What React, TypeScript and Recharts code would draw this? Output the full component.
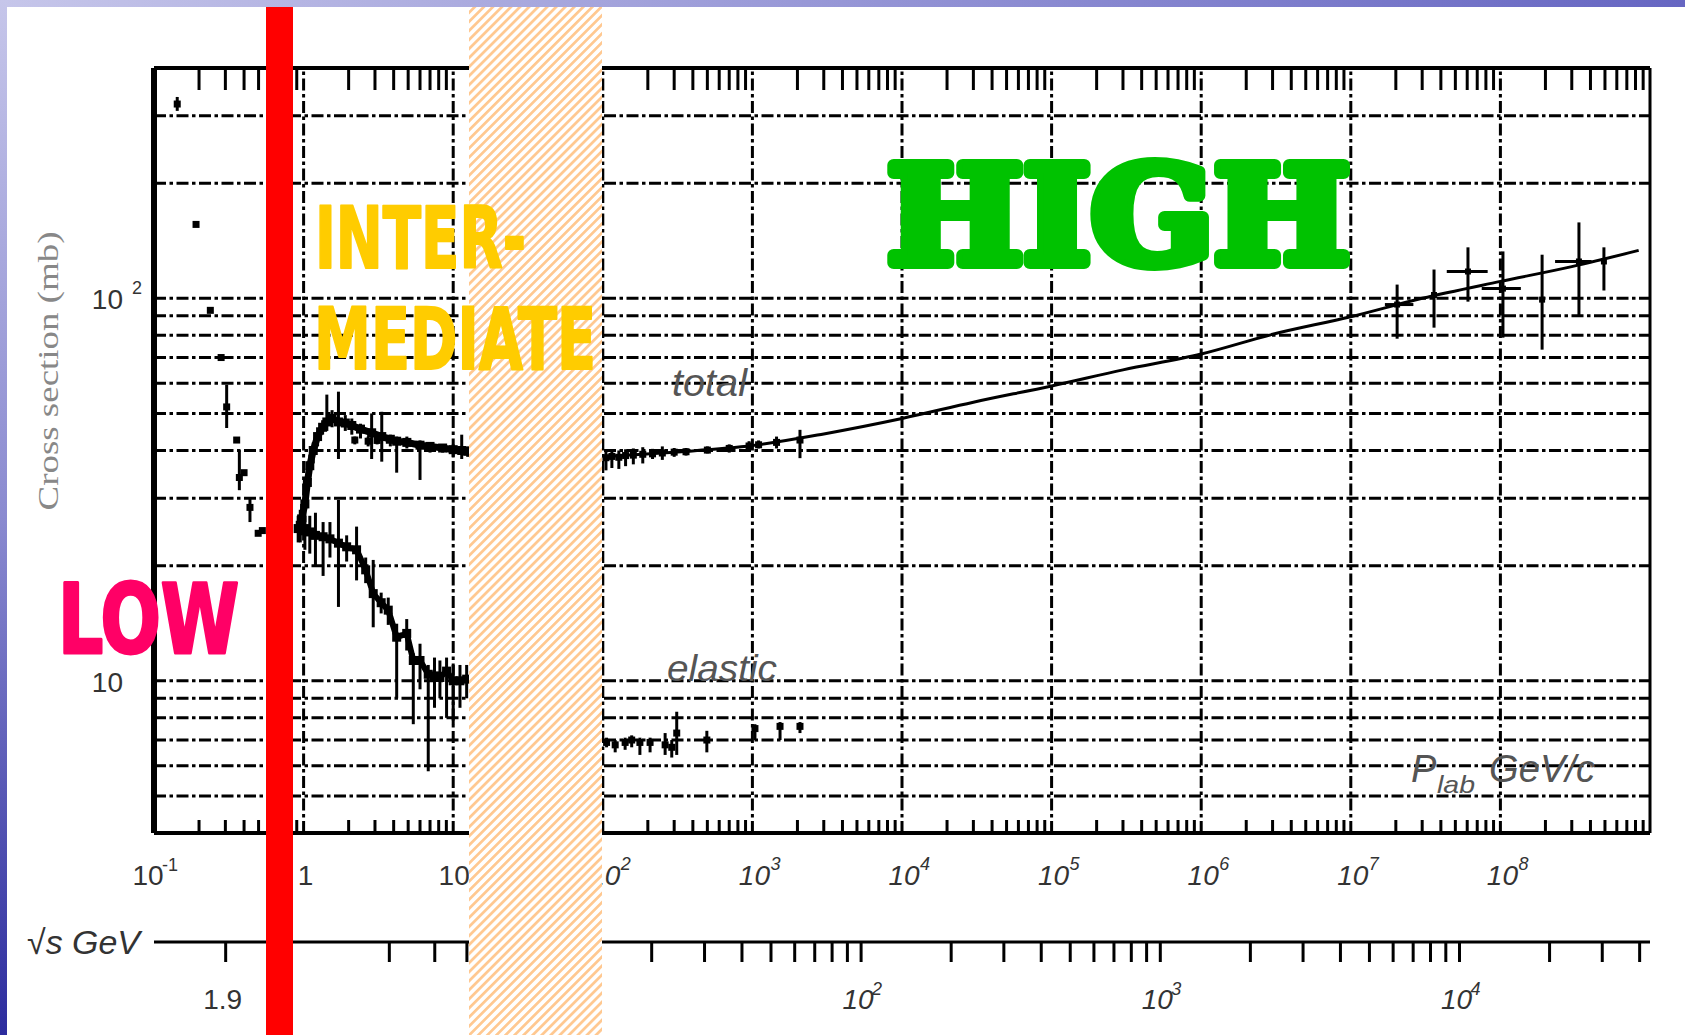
import React from 'react';
import { ComposedChart, Line, Scatter, XAxis, YAxis, ReferenceLine, ErrorBar } from 'recharts';

const W = 1685;
const H = 1035;
const PROTON_MASS = 0.938272;

// lower axis: p_lab in GeV/c, one major tick per decade
const plabDecades = [0.1, 1, 10, 1e2, 1e3, 1e4, 1e5, 1e6, 1e7, 1e8];
const minorSteps = [2, 3, 4, 5, 6, 7, 8, 9];
// horizontal grid (mb) and labelled values
const sigmaGrid = [5, 6, 7, 8, 9, 10, 20, 30, 40, 50, 60, 70, 80, 90, 100, 200, 300];
const sigmaLabels = [10, 100];
// second scale: sqrt(s) in GeV
const sqrtSTicks = [
  1.9, 2, 3, 4, 5, 6, 7, 8, 9, 10, 20, 30, 40, 50, 60, 70, 80, 90, 100, 200, 300, 400, 500, 600, 700, 800, 900,
  1000, 2000, 3000, 4000, 5000, 6000, 7000, 8000, 9000, 10000, 20000, 30000, 40000,
];
const sqrtSLabels: Record<string, [string, string]> = {
  '1.9': ['1.9', ''],
  '2': ['2', ''],
  '10': ['10', ''],
  '100': ['10', '2'],
  '1000': ['10', '3'],
  '10000': ['10', '4'],
};

// [p_lab, sigma, low, high]  (mb)
const lowEnergy = [
  [0.143, 322, 309, 336],
  [0.191, 156],
  [0.238, 93],
  [0.281, 70],
  [0.306, 52, 45.8, 59.4],
  [0.357, 42.6],
  [0.372, 34, 31.5, 40.1],
  [0.4, 35],
  [0.438, 28.4, 26, 30.1],
  [0.497, 24.3],
  [0.53, 24.7],
];

const interTotal = [
  [0.92, 25, 23, 27],
  [0.97, 26.5, 24, 29],
  [1.02, 29, 26, 31],
  [1.06, 33, 30, 35],
  [1.1, 36.5, 34, 39],
  [1.16, 40, 37, 42],
  [1.24, 43.5, 41, 46],
  [1.34, 46, 44, 48],
  [1.43, 47.5, 45, 56],
  [1.55, 48.5, 46, 51],
  [1.71, 47.5, 38, 57],
  [1.9, 47.2, 45, 49.5],
  [2.1, 46.5, 44, 48.5],
  [2.4, 45.5, 43, 47],
  [2.85, 44.5, 38, 50],
  [3.33, 43.5, 37.4, 50.5],
  [3.8, 42.8, 41, 44],
  [4.19, 42.3, 35, 43.5],
  [4.9, 42, 40.5, 43.5],
  [6.0, 41.3, 33.5, 42.5],
  [7.0, 41, 39.5, 42],
  [8.5, 40.6, 39.5, 41.5],
  [10, 40.2, 38.5, 41.5],
  [11.4, 40, 38, 44],
  [12.5, 39.8, 38.5, 41],
];

const interTotalExtra = [
  [2.2, 42.6, 41.5, 43.5],
  [2.7, 42.3, 41, 43.5],
  [3.1, 42.5, 41.5, 43.5],
];

const interElastic = [
  [0.95, 25.5, 23, 28],
  [1.02, 25, 22, 27],
  [1.1, 24.5, 21.5, 27],
  [1.2, 24, 20, 27.5],
  [1.35, 23.8, 18.8, 26],
  [1.5, 23.5, 21, 26],
  [1.71, 22.9, 15.6, 29.7],
  [1.94, 22.4, 20.5, 24],
  [2.26, 22, 18.3, 25.3],
  [2.6, 19.5, 18, 21],
  [2.92, 16.9, 13.8, 20.7],
  [3.3, 16, 15, 17],
  [3.68, 15.3, 14, 16.5],
  [4.19, 13, 9, 14.1],
  [4.89, 13.3, 12, 14.5],
  [5.41, 11.3, 7.7, 11.8],
  [6.0, 11.3, 9.5, 12.5],
  [6.81, 10.4, 5.8, 11],
  [7.5, 10.3, 8.5, 11.5],
  [8.15, 10.2, 9, 11.3],
  [9.03, 10.6, 8, 11.5],
  [10, 10, 7.7, 11],
  [11.1, 10, 8.5, 11],
  [12.3, 10.1, 9, 11],
];

const highTotalPts = [
  [105, 38.3, 35.5, 40],
  [115, 38.6, 36, 39.8],
  [128, 38.4, 35.8, 40],
  [142, 38.8, 36.4, 40.3],
  [160, 38.9, 36.8, 40.5],
  [185, 39.1, 37, 40.8],
  [215, 39.2, 38, 40.4],
  [250, 39.4, 37.8, 41],
  [300, 39.6, 38.5, 40.6],
  [360, 39.7, 38.8, 40.6],
  [500, 40.1, 39.3, 41],
  [700, 40.5, 39.5, 41.5],
  [950, 41.1, 40, 42.3],
  [1100, 41.4, 40.5, 42.5],
  [1450, 42, 40.5, 43.5],
  [2080, 42.6, 38.2, 45.3],
];

const highElastic = [
  [106, 6.9, 6.7, 7.1],
  [121, 6.8, 6.5, 7.0],
  [141, 6.9, 6.6, 7.1],
  [156, 7.0, 6.7, 7.2],
  [177, 6.9, 6.4, 7.1],
  [207, 6.9, 6.5, 7.1],
  [261, 6.8, 6.4, 7.3],
  [289, 6.7, 6.3, 7.0],
  [312, 7.3, 6.4, 8.3],
  [496, 7.0, 6.5, 7.4],
  [1040, 7.5, 7.0, 7.7],
  [1530, 7.6, 7.0, 7.8],
  [2080, 7.6, 7.3, 7.8],
];

// [p_lab, sigma, low, high, p_low, p_high]
const cosmicTotal = [
  [2.04e7, 96.3, 78.4, 108.6, 1.69e7, 2.62e7],
  [3.6e7, 102, 83.8, 118.9],
  [6.07e7, 117.5, 98, 135.9, 4.38e7, 8.22e7],
  [1.04e8, 106, 78.9, 132.6, 7.5e7, 1.37e8],
  [1.9e8, 99.2, 73.4, 130],
  [3.35e8, 124.8, 89.5, 157.9, 2.32e8, 4.07e8],
  [4.92e8, 124.8, 104.8, 135.9],
];

// [p_lab, sigma] fit through the high energy total cross section
const highTotalFit = [
  [100, 38.5],
  [300, 39.6],
  [1000, 41.2],
  [3000, 44.2],
  [1e4, 48.5],
  [3e4, 53.5],
  [1e5, 59],
  [3e5, 65],
  [1e6, 71.5],
  [3e6, 80.5],
  [1e7, 89.5],
  [3e7, 100],
  [1e8, 110.7],
  [3e8, 121],
  [8.4e8, 133.4],
];

const rows = (pts: number[][]) =>
  pts.map(([p, s, lo = s, hi = s, plo = p, phi = p]) => ({ p, s, ey: [s - lo, hi - s], ex: [p - plo, phi - p] }));

const plabTicks = [...plabDecades, ...plabDecades.flatMap((d) => minorSteps.map((m) => m * d))];
const isDecade = (v: number) => plabDecades.some((d) => Math.abs(v - d) / d < 1e-9);

const plabFromSqrtS = (w: number) => {
  const e = (w * w - 2 * PROTON_MASS * PROTON_MASS) / (2 * PROTON_MASS);
  return Math.sqrt(e * e - PROTON_MASS * PROTON_MASS);
};
const sqrtSFromPlab = (p: number) =>
  Math.sqrt(2 * PROTON_MASS * PROTON_MASS + 2 * PROTON_MASS * Math.sqrt(p * p + PROTON_MASS * PROTON_MASS));
const sqrtSPlabTicks = sqrtSTicks.map(plabFromSqrtS);

const SANS = "'Liberation Sans', Arial, sans-serif";
const GRID_DASH = '12 3.5 3.5 3.5';

const square = (size: number) => (props: any) => {
  const { cx, cy } = props;
  if (cx == null || cy == null) return <g />;
  return <rect x={cx - size / 2} y={cy - size / 2} width={size} height={size} fill="#000" />;
};

const PowerText = ({ x, y, base, exp, italic, expDx, expDy, size = 28 }: any) => (
  <g fontFamily={SANS} fill="#333" fontStyle={italic ? 'italic' : 'normal'}>
    <text x={x} y={y} fontSize={size} textAnchor="middle">
      {base}
    </text>
    {exp ? (
      <text x={x + expDx} y={y + expDy} fontSize={18}>
        {exp}
      </text>
    ) : null}
  </g>
);

const PlabTick = (props: any) => {
  const { x, y, payload } = props;
  const v = payload.value;
  if (!isDecade(v)) return <line x1={x} x2={x} y1={y} y2={y - 13} stroke="#000" strokeWidth={3} />;
  const k = Math.round(Math.log10(v));
  if (k === 0) return <PowerText x={x + 2} y={y + 52} base="1" />;
  if (k === 1) return <PowerText x={x + 1} y={y + 52} base="10" />;
  if (k === -1) return <PowerText x={x - 6} y={y + 52} base="10" exp="-1" expDx={14} expDy={-14} />;
  return <PowerText x={x + 2} y={y + 52} base="10" exp={String(k)} expDx={16} expDy={-15} italic />;
};

const TopTick = (props: any) => {
  const { x, y, payload } = props;
  if (isDecade(payload.value)) return <g />;
  return <line x1={x} x2={x} y1={y} y2={y + 22} stroke="#000" strokeWidth={3} />;
};

const SqrtSTick = (props: any) => {
  const { x, y, payload } = props;
  const w = sqrtSFromPlab(payload.value);
  const near = sqrtSTicks.find((t) => Math.abs(t - w) / t < 1e-6);
  const lab = near != null ? sqrtSLabels[String(near)] : undefined;
  return (
    <g>
      <line x1={x} x2={x} y1={y} y2={y + 20} stroke="#000" strokeWidth={3} />
      {lab ? (
        <PowerText x={x - 3} y={y + 67} base={lab[0]} exp={lab[1]} expDx={14} expDy={-14} italic={near! >= 100} />
      ) : null}
    </g>
  );
};

const SigmaTick = (props: any) => {
  const { x, y, payload } = props;
  return (
    <g fontFamily={SANS} fill="#333">
      <text x={x - 31} y={y + 11} fontSize={28} textAnchor="end">
        10
      </text>
      {payload.value === 100 ? (
        <text x={x - 22} y={y - 4} fontSize={18}>
          2
        </text>
      ) : null}
    </g>
  );
};

export default function App() {
  return (
    <div style={{ position: 'absolute', left: 0, top: 0, width: W, height: H, background: '#fff', overflow: 'hidden' }}>
      <ComposedChart width={W} height={H} margin={{ top: 67, right: 35, left: 0, bottom: 0 }}>
        <XAxis
          type="number"
          dataKey="p"
          scale="log"
          domain={[0.1, 1e9]}
          allowDataOverflow
          ticks={plabTicks}
          interval={0}
          height={109}
          axisLine={false}
          tickLine={false}
          tickSize={0}
          tickMargin={0}
          tick={PlabTick}
        />
        <XAxis
          xAxisId="s"
          type="number"
          dataKey="p"
          scale="log"
          domain={[0.1, 1e9]}
          allowDataOverflow
          ticks={sqrtSPlabTicks}
          interval={0}
          height={93}
          axisLine={{ stroke: '#000', strokeWidth: 3 }}
          tickLine={false}
          tickSize={0}
          tickMargin={0}
          tick={SqrtSTick}
        />
        <XAxis
          xAxisId="top"
          orientation="top"
          type="number"
          dataKey="p"
          scale="log"
          domain={[0.1, 1e9]}
          allowDataOverflow
          ticks={plabTicks}
          interval={0}
          height={1}
          axisLine={false}
          tickLine={false}
          tickSize={0}
          tickMargin={0}
          tick={TopTick}
        />
        <YAxis
          type="number"
          dataKey="s"
          scale="log"
          domain={[4, 400]}
          allowDataOverflow
          ticks={sigmaLabels}
          interval={0}
          width={154}
          axisLine={false}
          tickLine={false}
          tickSize={0}
          tickMargin={0}
          tick={SigmaTick}
        />

        {plabDecades.slice(1).map((v) => (
          <ReferenceLine key={'gx' + v} x={v} stroke="#000" strokeWidth={3} strokeDasharray={GRID_DASH} ifOverflow="visible" />
        ))}
        {sigmaGrid.map((v) => (
          <ReferenceLine key={'gy' + v} y={v} stroke="#000" strokeWidth={3} strokeDasharray={GRID_DASH} ifOverflow="visible" />
        ))}
        <ReferenceLine x={0.1} stroke="#000" strokeWidth={6} ifOverflow="visible" />
        <ReferenceLine x={1e9} stroke="#000" strokeWidth={3} ifOverflow="visible" />
        <ReferenceLine y={400} stroke="#000" strokeWidth={4} ifOverflow="visible" />
        <ReferenceLine y={4} stroke="#000" strokeWidth={4} ifOverflow="visible" />

        <Line data={rows(interTotal)} dataKey="s" stroke="#000" strokeWidth={7} dot={false} isAnimationActive={false} />
        <Line data={rows(interElastic)} dataKey="s" stroke="#000" strokeWidth={6} dot={false} isAnimationActive={false} />
        <Line data={rows(highTotalFit)} dataKey="s" stroke="#000" strokeWidth={3} dot={false} type="monotone" isAnimationActive={false} />

        <Scatter data={rows(lowEnergy)} dataKey="s" shape={square(7)} isAnimationActive={false}>
          <ErrorBar dataKey="ey" direction="y" width={0} stroke="#000" strokeWidth={3} isAnimationActive={false} />
        </Scatter>
        <Scatter data={rows(interTotal)} dataKey="s" shape={square(9)} isAnimationActive={false}>
          <ErrorBar dataKey="ey" direction="y" width={0} stroke="#000" strokeWidth={3} isAnimationActive={false} />
        </Scatter>
        <Scatter data={rows(interTotalExtra)} dataKey="s" shape={square(7)} isAnimationActive={false}>
          <ErrorBar dataKey="ey" direction="y" width={0} stroke="#000" strokeWidth={3} isAnimationActive={false} />
        </Scatter>
        <Scatter data={rows(interElastic)} dataKey="s" shape={square(9)} isAnimationActive={false}>
          <ErrorBar dataKey="ey" direction="y" width={0} stroke="#000" strokeWidth={3} isAnimationActive={false} />
        </Scatter>
        <Scatter data={rows(highTotalPts)} dataKey="s" shape={square(7)} isAnimationActive={false}>
          <ErrorBar dataKey="ey" direction="y" width={0} stroke="#000" strokeWidth={3} isAnimationActive={false} />
        </Scatter>
        <Scatter data={rows(highElastic)} dataKey="s" shape={square(7)} isAnimationActive={false}>
          <ErrorBar dataKey="ey" direction="y" width={0} stroke="#000" strokeWidth={3} isAnimationActive={false} />
        </Scatter>
        <Scatter data={rows(cosmicTotal)} dataKey="s" shape={square(6)} isAnimationActive={false}>
          <ErrorBar dataKey="ey" direction="y" width={0} stroke="#000" strokeWidth={3} isAnimationActive={false} />
          <ErrorBar dataKey="ex" direction="x" width={0} stroke="#000" strokeWidth={3} isAnimationActive={false} />
        </Scatter>
      </ComposedChart>

      <svg width={W} height={H} style={{ position: 'absolute', left: 0, top: 0, pointerEvents: 'none' }}>
        <defs>
          <linearGradient id="topBar" x1="0" x2="1" y1="0" y2="0">
            <stop offset="0" stopColor="#c6c6ea" />
            <stop offset="1" stopColor="#6666c2" />
          </linearGradient>
          <linearGradient id="leftBar" x1="0" x2="0" y1="0" y2="1">
            <stop offset="0" stopColor="#c6c6ea" />
            <stop offset="0.5" stopColor="#8a8ad0" />
            <stop offset="1" stopColor="#2c2c9e" />
          </linearGradient>
          <pattern id="hatch" patternUnits="userSpaceOnUse" width="6.4" height="6.4" patternTransform="rotate(45)">
            <rect x="0" y="0" width="2.7" height="6.4" fill="#ffc890" />
          </pattern>
        </defs>

        <g fontFamily={SANS} fontStyle="italic">
          <text x={672} y={396} fontSize={38} fill="#555" textLength={75} lengthAdjust="spacingAndGlyphs">
            total
          </text>
          <text x={667} y={681} fontSize={37} fill="#555" textLength={110} lengthAdjust="spacingAndGlyphs">
            elastic
          </text>
          <text x={1411} y={782} fontSize={38} fill="#555">
            P
          </text>
          <text x={1437} y={793} fontSize={24} fill="#555" textLength={38} lengthAdjust="spacingAndGlyphs">
            lab
          </text>
          <text x={1489} y={782} fontSize={38} fill="#555" textLength={106} lengthAdjust="spacingAndGlyphs">
            GeV/c
          </text>
          <text x={27} y={954} fontSize={34} fill="#333" textLength={113} lengthAdjust="spacingAndGlyphs">
            √s GeV
          </text>
        </g>
        <text
          transform="translate(58,371) rotate(-90)"
          textAnchor="middle"
          fontFamily="'Liberation Serif', serif"
          fontSize={30}
          fill="#888"
          textLength={279}
          lengthAdjust="spacingAndGlyphs"
        >
          Cross section (mb)
        </text>

        <rect x={469} y={7} width={133} height={H - 7} fill="#fff" />
        <rect x={469} y={7} width={133} height={H - 7} fill="url(#hatch)" />
        <rect x={266} y={7} width={27} height={H - 7} fill="#ff0000" />

        <g fontFamily="'Liberation Sans Narrow', 'DejaVu Sans Condensed', sans-serif" fontWeight="bold" strokeLinejoin="round">
          <text
            x={58}
            y={653}
            fontSize={97}
            fill="#ff0066"
            stroke="#ff0066"
            strokeWidth={3}
            textLength={181}
            lengthAdjust="spacingAndGlyphs"
          >
            LOW
          </text>
          <text
            x={315}
            y={268}
            fontSize={85}
            fill="#ffcc00"
            stroke="#ffcc00"
            strokeWidth={2}
            textLength={211}
            lengthAdjust="spacingAndGlyphs"
          >
            INTER-
          </text>
          <text
            x={314}
            y={369}
            fontSize={85}
            fill="#ffcc00"
            stroke="#ffcc00"
            strokeWidth={2}
            textLength={282}
            lengthAdjust="spacingAndGlyphs"
          >
            MEDIATE
          </text>
        </g>
        <g fontFamily="'DejaVu Serif', serif" fontWeight="bold" fontSize={134} fill="#00c200">
          <text
            x={887}
            y={263}
            stroke="#00c200"
            strokeWidth={12}
            strokeLinejoin="round"
            textLength={463}
            lengthAdjust="spacingAndGlyphs"
          >
            HIGH
          </text>
          <text x={887} y={263} textLength={463} lengthAdjust="spacingAndGlyphs">
            HIGH
          </text>
        </g>

        <rect x={0} y={0} width={W} height={7} fill="url(#topBar)" />
        <rect x={0} y={0} width={7} height={H} fill="url(#leftBar)" />
      </svg>
    </div>
  );
}
